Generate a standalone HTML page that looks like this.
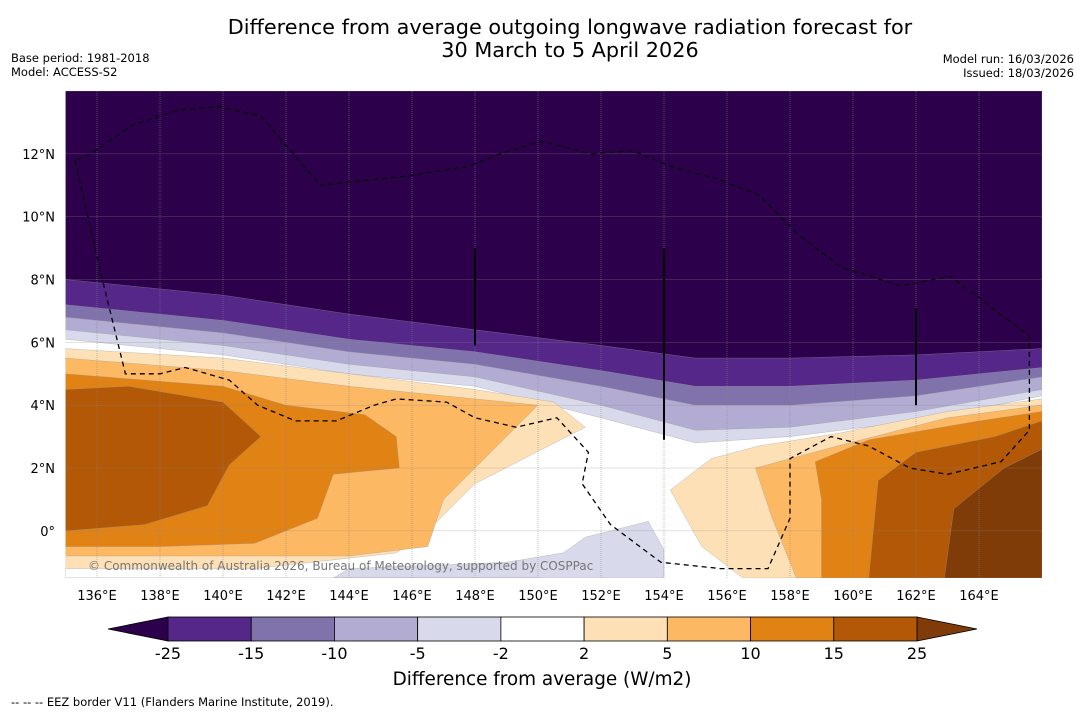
<!DOCTYPE html>
<html><head><meta charset="utf-8">
<style>
body{margin:0;background:#fff;font-family:"DejaVu Sans","Liberation Sans",sans-serif;}
svg{display:block;font-family:"DejaVu Sans","Liberation Sans",sans-serif;}
</style></head>
<body>
<svg id="chart" width="1085" height="713" xmlns="http://www.w3.org/2000/svg">
<rect width="1085" height="713" fill="#fff"/>
<text x="570" y="34" text-anchor="middle" font-size="20.8">Difference from average outgoing longwave radiation forecast for</text>
<text x="570" y="57" text-anchor="middle" font-size="20.8">30 March to 5 April 2026</text>
<text x="11" y="62" font-size="11.5">Base period: 1981-2018</text>
<text x="11" y="76" font-size="11.5">Model: ACCESS-S2</text>
<text x="1074" y="63" font-size="11.5" text-anchor="end">Model run: 16/03/2026</text>
<text x="1074" y="77" font-size="11.5" text-anchor="end">Issued: 18/03/2026</text>
<g id="map"></g>
<g id="cbar"></g>
<text x="542" y="685" text-anchor="middle" font-size="18.4">Difference from average (W/m2)</text>
<text x="11" y="706" font-size="11.5">--  --  -- EEZ border V11 (Flanders Marine Institute, 2019).</text>
</svg>
<script>
// axes extents
const lonMin=135, lonMax=166, latMin=-1.5, latMax=14;
const xTicks=[136,138,140,142,144,146,148,150,152,154,156,158,160,162,164];
const yTicks=[0,2,4,6,8,10,12];
// colour levels
const levels=[-25,-15,-10,-5,-2,2,5,10,15,25];
const levelLabels=["-25","-15","-10","-5","-2","2","5","10","15","25"];
const colors=["#542788","#8073ac","#b2abd2","#d8daeb","#ffffff","#fee0b6","#fdb863","#e08214","#b35806"];
const lowColor="#2d004b", highColor="#7f3b08";
// northern negative bands: latitude of lower boundary at each longitude
const bandLons=[135,140,144,148,152,155,158,162,166];
const bandM25=[8.0,7.5,6.9,6.4,5.9,5.5,5.5,5.6,5.8];
const bandM15=[7.2,6.7,6.1,5.7,5.1,4.6,4.6,4.8,5.2];
const bandM10=[6.8,6.3,5.7,5.3,4.6,4.0,4.0,4.3,4.9];
const bandM5=[6.4,5.9,5.3,4.9,4.0,3.2,3.3,3.8,4.5];
const bandM2=[6.1,5.6,5.0,4.6,3.6,2.8,3.0,3.5,4.3];
// positive region polygons (lon,lat pairs)
const polyP2W=[[135,5.8],[140,5.5],[144,5.0],[148,4.5],[150.5,4.1],[151.5,3.3],[148,1.5],[146.5,0],[145.5,-0.7],[141,-1.2],[135,-1.2],[135,-1.5],[150,-1.5],[135,-1.5]];
const polyP5W=[[135,5.5],[140,5.1],[144,4.6],[148,4.2],[150,4.0],[148.5,2.5],[147,1],[146.5,-0.5],[144,-0.8],[140,-0.8],[135,-0.8]];
const polyP10W=[[135,5.0],[140,4.6],[142,4.0],[144.5,3.7],[145.5,3.0],[145.6,2.0],[143.5,1.8],[143,0.4],[141,-0.4],[138,-0.5],[135,-0.5]];
const polyP15W=[[135,4.5],[137,4.6],[140,4.1],[141.2,3.0],[140.2,2.1],[139.5,0.8],[137.5,0.2],[135,0.0]];
const polyP2E=[[156.5,-1.5],[155.2,-0.5],[154.2,1.3],[155.5,2.3],[157,2.7],[159.5,3.1],[163,3.8],[166,4.2],[166,-1.5]];
const polyP5E=[[158.2,-1.5],[157.4,0.5],[156.9,2.0],[159.5,2.7],[163,3.6],[166,4.0],[166,-1.5]];
const polyP10E=[[159,-1.5],[159,1.0],[158.8,2.2],[160.5,2.9],[164,3.5],[166,3.8],[166,-1.5]];
const polyP15E=[[160.5,-1.5],[160.8,1.6],[162,2.5],[164.5,3.0],[166,3.5],[166,-1.5]];
const polyP25E=[[162.9,-1.5],[163.2,0.7],[164.8,2.0],[166,2.6],[166,-1.5]];
const polyM5S=[[143.5,-1.5],[144,-1.2],[149,-1.0],[150.8,-0.7],[151.5,-0.2],[153.5,0.3],[154,-0.6],[154,-1.5]];
// EEZ border
const eez=[[135.3,11.8],[136.1,8.3],[136.9,5.0],[138,5.0],[138.8,5.2],[140.2,4.8],[141.1,4.0],[142.3,3.5],[143.6,3.5],[144.8,4.0],[145.5,4.2],[147.1,4.1],[148,3.6],[149.3,3.3],[150.6,3.6],[151.6,2.5],[151.4,1.5],[152.3,0.2],[153.9,-1.0],[155.8,-1.2],[157.3,-1.2],[158,0.4],[158,2.3],[159.3,3.0],[160.5,2.7],[161.8,2.0],[163,1.8],[164.7,2.2],[165.6,3.2],[165.6,6.2],[163.1,8.1],[161.5,7.8],[159.6,8.4],[158.3,9.4],[157,10.7],[155.7,11.2],[154.2,11.6],[153,12.1],[151.7,12.0],[150.1,12.4],[148.8,12.0],[147.8,11.6],[145.9,11.3],[143.1,11.0],[141.2,13.2],[139.9,13.5],[138.6,13.4],[137.1,12.9],[135.8,12.0],[135.3,11.8]];

const NS="http://www.w3.org/2000/svg";
const X0=65.5,X1=1042,Y0=91,Y1=578;
function xs(lon){return X0+(lon-lonMin)*(X1-X0)/(lonMax-lonMin);}
function ys(lat){return Y1-(lat-latMin)*(Y1-Y0)/(latMax-latMin);}
const map=document.getElementById('map');
function mk(tag,attrs,parent){const e=document.createElementNS(NS,tag);for(const k in attrs)e.setAttribute(k,attrs[k]);(parent||map).appendChild(e);return e;}
function ptsStr(p){return p.map(q=>xs(q[0]).toFixed(1)+','+ys(q[1]).toFixed(1)).join(' ');}

const defs=mk('defs',{});
const cp=mk('clipPath',{id:'clip'},defs);
mk('rect',{x:X0,y:Y0,width:X1-X0,height:Y1-Y0},cp);
const g=mk('g',{'clip-path':'url(#clip)'});
mk('rect',{x:X0,y:Y0,width:X1-X0,height:Y1-Y0,fill:'#fff'},g);

const bands=[[bandM2,colors[3]],[bandM5,colors[2]],[bandM10,colors[1]],[bandM15,colors[0]],[bandM25,lowColor]];
bands.forEach((b,i)=>{
  const p=[[lonMin,latMax]].concat(bandLons.map((l,j)=>[l,b[0][j]])).concat([[lonMax,latMax]]);
  const e=mk('polygon',{points:ptsStr(p),fill:b[1],stroke:'#999','stroke-width':0.3},g);
  
  
});
const polys=[[polyM5S,colors[3]],[polyP2W,colors[5]],[polyP5W,colors[6]],[polyP10W,colors[7]],[polyP15W,colors[8]],
 [polyP2E,colors[5]],[polyP5E,colors[6]],[polyP10E,colors[7]],[polyP15E,colors[8]],[polyP25E,highColor]];
polys.forEach((pp,i)=>{
  const e=mk('polygon',{points:ptsStr(pp[0]),fill:pp[1],stroke:'#999','stroke-width':0.3},g);
  
  
});
// gridlines
xTicks.forEach(l=>{
  const e=mk('line',{x1:xs(l),x2:xs(l),y1:Y0,y2:Y1,stroke:'#888','stroke-width':0.5,'stroke-dasharray':'1,1'},g);
  
  
});
yTicks.forEach(l=>{
  const e=mk('line',{x1:X0,x2:X1,y1:ys(l),y2:ys(l),stroke:'#888','stroke-width':0.5,'stroke-dasharray':'1,1'},g);
  
  
});
// artifact vertical lines
[[148,9.0,5.9],[154,9.0,2.9],[162,7.1,4.0]].forEach(v=>{
  const e=mk('line',{x1:xs(v[0]),x2:xs(v[0]),y1:ys(v[1]),y2:ys(v[2]),stroke:'#000','stroke-width':2},g);
  
  
});
const ez=mk('polyline',{points:ptsStr(eez),fill:'none',stroke:'#000','stroke-width':1.3,'stroke-dasharray':'5,4'},g);


const cr=mk('text',{x:88,y:570,'font-size':12,fill:'#777'},g);
cr.textContent='© Commonwealth of Australia 2026, Bureau of Meteorology, supported by COSPPac';


// tick labels
xTicks.forEach(l=>{
  const t=mk('text',{x:xs(l),y:600,'font-size':13,'text-anchor':'middle'});
  t.textContent=l+'°E';
  
  
});
yTicks.forEach(l=>{
  const t=mk('text',{x:55,y:ys(l)+5,'font-size':13,'text-anchor':'end'});
  t.textContent=l===0?'0°':l+'°N';
  
  
});
// colorbar
const cb=document.getElementById('cbar');
const CB0=168,CB1=917,CBy=617,CBh=24;
const bw=(CB1-CB0)/colors.length;
const lt=mk('polygon',{points:`${CB0},${CBy} 108,${CBy+CBh/2} ${CB0},${CBy+CBh}`,fill:lowColor,stroke:'#000','stroke-width':0.8},cb);


const rt=mk('polygon',{points:`${CB1},${CBy} 977,${CBy+CBh/2} ${CB1},${CBy+CBh}`,fill:highColor,stroke:'#000','stroke-width':0.8},cb);


colors.forEach((c,i)=>{
  const r=mk('rect',{x:CB0+i*bw,y:CBy,width:bw,height:CBh,fill:c,stroke:'#000','stroke-width':0.8},cb);
  
  
});
levels.forEach((v,i)=>{
  const t=mk('text',{x:CB0+i*bw,y:659,'font-size':16,'text-anchor':'middle'},cb);
  t.textContent=levelLabels[i];
  
  
});
</script>
</body></html>
